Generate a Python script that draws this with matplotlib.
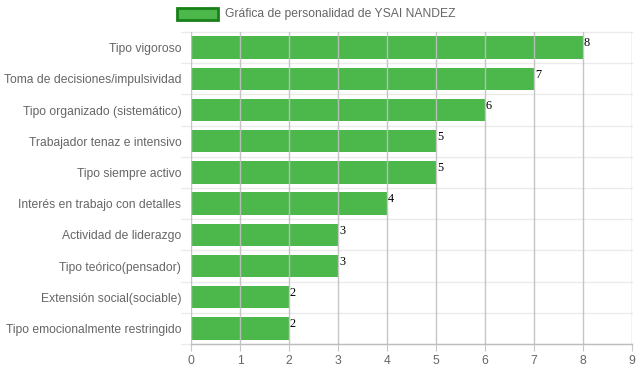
import matplotlib
matplotlib.use("Agg")
import matplotlib.pyplot as plt
from matplotlib.patches import Rectangle

categories = ["Tipo vigoroso", "Toma de decisiones/impulsividad", "Tipo organizado (sistemático)",
              "Trabajador tenaz e intensivo", "Tipo siempre activo", "Interés en trabajo con detalles",
              "Actividad de liderazgo", "Tipo teórico(pensador)", "Extensión social(sociable)",
              "Tipo emocionalmente restringido"]
values = [8, 7, 6, 5, 5, 4, 3, 3, 2, 2]
xticks = list(range(0, 10))
legend_label = "Gráfica de personalidad de YSAI NANDEZ"

W, H = 639, 372
fig = plt.figure(figsize=(W / 100, H / 100), dpi=100)
ax = fig.add_axes([191 / W, 1 - 344 / H, (632 - 191) / W, (344 - 32) / H])

n = len(categories)
ypos = list(range(n))
ax.barh(ypos, values, height=0.72, color="#4cb84c", edgecolor="#4cb84c", linewidth=0, zorder=2)
ax.set_ylim(n - 0.5, -0.5)
ax.set_xlim(0, 9)

ax.set_xticks(xticks)
ax.set_xticklabels([str(t) for t in xticks])
ax.set_yticks(ypos)
ax.set_yticklabels(categories)

# horizontal grid at category boundaries (light)
for b in [i - 0.5 for i in range(n + 1)]:
    ax.axhline(b, color="#ebebeb", linewidth=1, zorder=1, clip_on=False)
    ax.plot([-0.2, 0], [b, b], color="#ebebeb", linewidth=1, clip_on=False, zorder=1)
# vertical grid (darker)
for t in xticks:
    ax.axvline(t, color="#c0c0c0", linewidth=1, zorder=3, alpha=0.9)

for s in ax.spines.values():
    s.set_visible(False)
ax.plot([0, 9], [n - 0.5, n - 0.5], color="#bdbdbd", linewidth=1, clip_on=False, zorder=4)

ax.tick_params(axis="y", length=0, pad=7, labelsize=8.7, labelcolor="#666666")
ax.tick_params(axis="x", length=5, color="#c8c8c8", pad=3, labelsize=8.7, labelcolor="#666666")
for lab in ax.get_xticklabels() + ax.get_yticklabels():
    lab.set_fontfamily("Liberation Sans")

for y, v in zip(ypos, values):
    ax.text(v + 0.02, y - 0.33, str(v), ha="left", va="top", fontsize=8.8,
            fontfamily="Liberation Serif", color="black", zorder=5)

# legend
fig.patches.append(Rectangle((177 / W, 1 - 20 / H), 41 / W, 12 / H, transform=fig.transFigure,
                             facecolor="#4cb84c", edgecolor="#1a801a", linewidth=2))
fig.text(225 / W, 1 - 14.5 / H, legend_label, ha="left", va="center", fontsize=8.7,
         fontfamily="Liberation Sans", color="#666666")

fig.savefig("out.png", dpi=100)
